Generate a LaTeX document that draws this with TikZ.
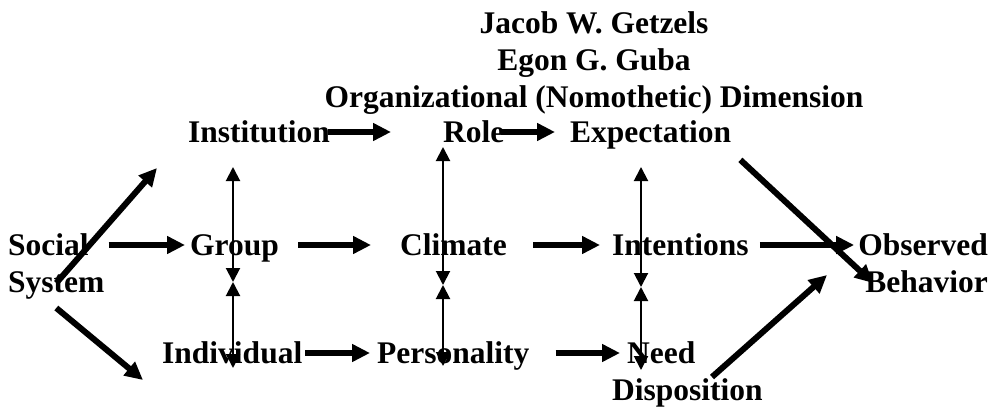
\documentclass[tikz,border=0pt]{standalone}
\usepackage{fontspec}
\setmainfont{Liberation Serif}
\usetikzlibrary{arrows.meta}

\begin{document}
\begin{tikzpicture}[x=1pt, y=-1pt,
    lbl/.style={inner sep=0pt, anchor=base west, font=\fontsize{31.5}{37}\selectfont\bfseries},
    bigarrow/.style={black, line width=6pt, -{Triangle[length=18pt,width=17pt]}},
    thinarrow/.style={black, line width=2pt, {Triangle[length=14pt,width=14pt]}-{Triangle[length=14pt,width=14pt]}}]
    \useasboundingbox (0,0) rectangle (993,407);
    % Below nodes are the labels.
        \node[lbl, anchor=base] (getzels) at (594,33) {Jacob W. Getzels};
        \node[lbl, anchor=base] (guba) at (594,70) {Egon G. Guba};
        \node[lbl, anchor=base] (dimension) at (594,107) {Organizational (Nomothetic) Dimension};
        \node[lbl] (inst) at (188,142) {Institution};
        \node[lbl] (role) at (443,142) {Role};
        \node[lbl] (expect) at (570,142) {Expectation};
        \node[lbl, align=left] (social) at (8,292) {Social\\System};
        \node[lbl] (group) at (190,255) {Group};
        \node[lbl] (climate) at (400,255) {Climate};
        \node[lbl] (intent) at (612,255) {Intentions};
        \node[lbl, align=right, anchor=base east] (observed) at (988,292) {Observed\\Behavior};
        \node[lbl] (indiv) at (162,363) {Individual};
        \node[lbl] (person) at (377,363) {Personality};
        \node[lbl, align=left] (need) at (612,400) {\hspace*{15pt}Need\\Disposition};
    % Free ends of the slanted arrows.
        \coordinate (insttip) at (157,168);
        \coordinate (indivtip) at (143,380);
        \coordinate (behavtip) at (873,283);
        \coordinate (obstip) at (827,275);
    % Ends of the thin two-way arrows.
        \coordinate (gtop) at (233,167);
        \coordinate (gmid) at (233,282);
        \coordinate (gbot) at (233,368);
        \coordinate (ctop) at (443,147);
        \coordinate (cmid) at (443,285);
        \coordinate (cbot) at (443,366);
        \coordinate (itop) at (641,167);
        \coordinate (imid) at (641,287);
        \coordinate (ibot) at (641,370);
    % Horizontal arrows.
        \draw[bigarrow, shorten <=-2pt, shorten >=52pt] ([yshift=10pt]inst.base east) -- ([yshift=10pt]role.base west);
        \draw[bigarrow, shorten <=-4pt, shorten >=15pt] ([yshift=10pt]role.base east) -- ([yshift=10pt]expect.base west);
        \draw[bigarrow, shorten <=4pt, shorten >=5pt] ([yshift=47pt]social.base east) -- ([yshift=10pt]group.base west);
        \draw[bigarrow, shorten <=19pt, shorten >=29pt] ([yshift=10pt]group.base east) -- ([yshift=10pt]climate.base west);
        \draw[bigarrow, shorten <=26pt, shorten >=12pt] ([yshift=10pt]climate.base east) -- ([yshift=10pt]intent.base west);
        \draw[bigarrow, shorten <=11pt, shorten >=4pt] ([yshift=10pt]intent.base east) -- ([yshift=47pt]observed.base west);
        \draw[bigarrow, shorten <=3pt, shorten >=7pt] ([yshift=10pt]indiv.base east) -- ([yshift=10pt]person.base west);
        \draw[bigarrow, shorten <=26pt, shorten >=-8pt] ([yshift=10pt]person.base east) -- ([yshift=47pt]need.base west);
    % Slanted arrows.
        \draw[bigarrow] ([yshift=16pt]social.south) -- (insttip);
        \draw[bigarrow] ([yshift=-9pt]social.south) -- (indivtip);
        \draw[bigarrow] ([shift={(9pt,-11pt)}]expect.south east) -- (behavtip);
        \draw[bigarrow] ([shift={(100pt,23pt)}]need.base west) -- (obstip);
    % Thin two-way arrows.
        \draw[thinarrow] (gtop) -- (gmid);
        \draw[thinarrow] (gmid) -- (gbot);
        \draw[thinarrow] (ctop) -- (cmid);
        \draw[thinarrow] (cmid) -- (cbot);
        \draw[thinarrow] (itop) -- (imid);
        \draw[thinarrow] (imid) -- (ibot);
\end{tikzpicture}
\end{document}
